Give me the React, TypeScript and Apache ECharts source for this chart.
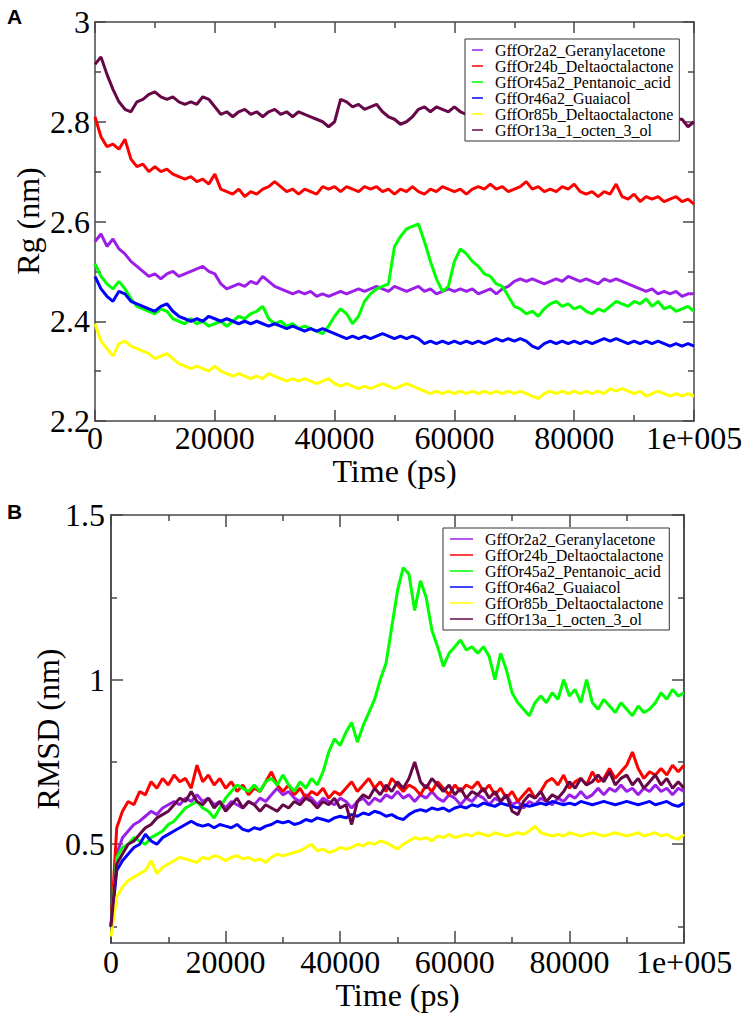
import React, { useEffect, useRef } from 'react';
import * as echarts from 'echarts';

// ---------- data ----------
const TIME_STEP_PS = 1000;
const TIME_PS: number[] = Array.from({ length: 101 }, (_, i) => i * TIME_STEP_PS);

const SERIES_NAMES = [
  'GffOr2a2_Geranylacetone',
  'GffOr24b_Deltaoctalactone',
  'GffOr45a2_Pentanoic_acid',
  'GffOr46a2_Guaiacol',
  'GffOr85b_Deltaoctalactone',
  'GffOr13a_1_octen_3_ol',
];
const SERIES_COLORS = ['#9b1fe8', '#ff0000', '#00ff00', '#0000ff', '#ffff00', '#670748'];

const X_TITLE = 'Time (ps)';
const RG_TITLE = 'Rg (nm)';
const RMSD_TITLE = 'RMSD (nm)';
const X_TICK_VALUES = [0, 20000, 40000, 60000, 80000, 100000];
const X_TICK_LABELS = ['0', '20000', '40000', '60000', '80000', '1e+005'];
const RG_TICK_VALUES = [2.2, 2.4, 2.6, 2.8, 3];
const RG_TICK_LABELS = ['2.2', '2.4', '2.6', '2.8', '3'];
const RMSD_MAJOR_TICKS = [0.5, 1, 1.5];
const RMSD_TICK_LABELS = ['0.5', '1', '1.5'];
const RMSD_MINOR_TICKS = [0.25, 0.75, 1.25];

// Panel A: Rg (nm)
const RG_2A2 = [2.56,2.575,2.55,2.565,2.545,2.535,2.52,2.51,2.5,2.49,
  2.495,2.485,2.495,2.5,2.49,2.495,2.5,2.505,2.51,2.5,
  2.495,2.475,2.465,2.47,2.475,2.47,2.48,2.475,2.49,2.48,
  2.47,2.465,2.46,2.455,2.46,2.455,2.46,2.45,2.455,2.45,
  2.455,2.46,2.455,2.46,2.465,2.46,2.465,2.47,2.465,2.46,
  2.47,2.465,2.46,2.465,2.47,2.46,2.465,2.455,2.46,2.465,
  2.46,2.465,2.46,2.465,2.455,2.46,2.465,2.455,2.465,2.47,
  2.48,2.485,2.48,2.485,2.48,2.475,2.48,2.485,2.48,2.49,
  2.485,2.48,2.485,2.48,2.475,2.485,2.48,2.485,2.48,2.475,
  2.47,2.465,2.46,2.465,2.455,2.46,2.455,2.46,2.45,2.455,
  2.455];
const RG_24B = [2.81,2.77,2.75,2.755,2.745,2.765,2.725,2.71,2.715,2.7,
  2.71,2.7,2.705,2.695,2.69,2.685,2.69,2.68,2.685,2.675,
  2.695,2.665,2.66,2.655,2.665,2.65,2.66,2.655,2.665,2.67,
  2.68,2.67,2.66,2.665,2.655,2.665,2.66,2.655,2.67,2.665,
  2.67,2.66,2.67,2.665,2.66,2.67,2.665,2.67,2.66,2.665,
  2.655,2.665,2.66,2.67,2.66,2.655,2.665,2.66,2.67,2.665,
  2.66,2.665,2.655,2.665,2.67,2.665,2.675,2.665,2.67,2.66,
  2.665,2.67,2.68,2.665,2.67,2.66,2.665,2.66,2.67,2.665,
  2.675,2.66,2.655,2.66,2.65,2.66,2.655,2.675,2.65,2.645,
  2.655,2.64,2.65,2.645,2.65,2.64,2.645,2.65,2.64,2.645,
  2.635];
const RG_45A2 = [2.515,2.49,2.475,2.465,2.48,2.465,2.445,2.43,2.425,2.42,
  2.415,2.425,2.42,2.405,2.4,2.395,2.405,2.395,2.4,2.39,
  2.395,2.4,2.39,2.4,2.41,2.405,2.415,2.42,2.43,2.405,
  2.395,2.4,2.39,2.395,2.385,2.39,2.385,2.38,2.375,2.39,
  2.41,2.425,2.415,2.395,2.41,2.44,2.455,2.465,2.47,2.475,
  2.55,2.57,2.585,2.59,2.595,2.56,2.52,2.485,2.46,2.47,
  2.52,2.545,2.535,2.52,2.51,2.495,2.49,2.475,2.47,2.45,
  2.43,2.425,2.415,2.42,2.41,2.425,2.435,2.44,2.43,2.435,
  2.425,2.43,2.42,2.415,2.425,2.42,2.43,2.44,2.435,2.43,
  2.44,2.435,2.445,2.43,2.44,2.425,2.43,2.42,2.425,2.43,
  2.42];
const RG_46A2 = [2.49,2.465,2.45,2.44,2.46,2.455,2.44,2.435,2.43,2.425,
  2.42,2.43,2.435,2.42,2.41,2.405,2.4,2.405,2.4,2.41,
  2.405,2.4,2.405,2.4,2.395,2.4,2.395,2.4,2.395,2.39,
  2.395,2.39,2.385,2.39,2.385,2.38,2.385,2.38,2.385,2.38,
  2.375,2.37,2.365,2.37,2.365,2.37,2.365,2.37,2.375,2.37,
  2.365,2.37,2.365,2.37,2.365,2.355,2.36,2.355,2.36,2.355,
  2.36,2.355,2.36,2.355,2.36,2.355,2.36,2.365,2.36,2.365,
  2.36,2.365,2.36,2.35,2.345,2.355,2.36,2.355,2.36,2.355,
  2.36,2.355,2.36,2.355,2.36,2.365,2.36,2.365,2.36,2.355,
  2.36,2.355,2.36,2.355,2.36,2.355,2.35,2.355,2.35,2.355,
  2.35];
const RG_85B = [2.395,2.36,2.345,2.33,2.355,2.36,2.35,2.345,2.34,2.335,
  2.325,2.33,2.335,2.325,2.315,2.31,2.305,2.31,2.305,2.3,
  2.31,2.3,2.295,2.29,2.295,2.29,2.285,2.29,2.285,2.295,
  2.29,2.285,2.28,2.285,2.28,2.285,2.28,2.275,2.28,2.285,
  2.275,2.27,2.275,2.27,2.265,2.27,2.265,2.27,2.275,2.27,
  2.265,2.27,2.275,2.27,2.265,2.26,2.255,2.26,2.255,2.26,
  2.255,2.26,2.255,2.26,2.255,2.26,2.255,2.26,2.255,2.26,
  2.255,2.26,2.255,2.25,2.245,2.255,2.26,2.255,2.26,2.255,
  2.26,2.255,2.26,2.255,2.26,2.255,2.265,2.26,2.265,2.26,
  2.255,2.26,2.25,2.255,2.26,2.255,2.25,2.255,2.25,2.255,
  2.25];
const RG_13A = [2.915,2.93,2.895,2.865,2.84,2.825,2.82,2.84,2.845,2.855,
  2.86,2.85,2.845,2.85,2.84,2.835,2.84,2.835,2.85,2.845,
  2.83,2.815,2.82,2.81,2.82,2.825,2.815,2.82,2.81,2.82,
  2.825,2.815,2.82,2.81,2.82,2.815,2.81,2.805,2.8,2.79,
  2.8,2.845,2.84,2.83,2.835,2.825,2.83,2.835,2.82,2.81,
  2.805,2.795,2.8,2.81,2.825,2.83,2.82,2.83,2.825,2.82,
  2.83,2.82,2.815,2.82,2.81,2.815,2.82,2.81,2.815,2.81,
  2.82,2.815,2.81,2.815,2.82,2.81,2.815,2.81,2.805,2.815,
  2.81,2.815,2.805,2.81,2.815,2.81,2.805,2.81,2.815,2.81,
  2.805,2.81,2.815,2.81,2.805,2.81,2.8,2.805,2.805,2.79,
  2.8];

// Panel B: RMSD (nm)
const RMSD_2A2 = [0.25,0.47,0.52,0.54,0.56,0.57,0.585,0.6,0.59,0.61,
  0.62,0.63,0.62,0.64,0.63,0.65,0.63,0.64,0.62,0.63,
  0.61,0.63,0.62,0.61,0.63,0.62,0.64,0.63,0.65,0.67,
  0.65,0.66,0.64,0.63,0.65,0.64,0.62,0.64,0.63,0.62,
  0.64,0.63,0.61,0.63,0.64,0.62,0.64,0.63,0.65,0.64,
  0.66,0.64,0.65,0.63,0.65,0.64,0.66,0.64,0.63,0.65,
  0.64,0.62,0.64,0.63,0.65,0.64,0.62,0.64,0.63,0.65,
  0.62,0.63,0.61,0.63,0.62,0.64,0.63,0.62,0.64,0.63,
  0.65,0.64,0.66,0.64,0.65,0.67,0.65,0.67,0.66,0.68,
  0.66,0.67,0.65,0.67,0.66,0.68,0.66,0.67,0.65,0.67,
  0.66];
const RMSD_24B = [0.25,0.55,0.6,0.63,0.62,0.66,0.65,0.69,0.67,0.7,
  0.68,0.71,0.69,0.7,0.67,0.74,0.69,0.71,0.68,0.7,
  0.67,0.69,0.66,0.68,0.65,0.67,0.66,0.69,0.72,0.68,
  0.66,0.68,0.65,0.67,0.64,0.66,0.65,0.67,0.64,0.66,
  0.65,0.67,0.69,0.66,0.68,0.7,0.67,0.69,0.66,0.7,
  0.68,0.66,0.68,0.67,0.65,0.68,0.66,0.69,0.67,0.65,
  0.68,0.66,0.68,0.67,0.69,0.66,0.68,0.65,0.67,0.64,
  0.66,0.63,0.65,0.67,0.64,0.66,0.69,0.7,0.68,0.71,
  0.67,0.69,0.7,0.68,0.72,0.69,0.7,0.73,0.7,0.72,
  0.74,0.78,0.73,0.7,0.72,0.71,0.73,0.71,0.74,0.72,
  0.74];
const RMSD_45A2 = [0.25,0.46,0.49,0.5,0.52,0.51,0.5,0.52,0.53,0.54,
  0.56,0.57,0.59,0.61,0.62,0.63,0.61,0.6,0.58,0.61,
  0.64,0.66,0.68,0.67,0.66,0.68,0.66,0.69,0.7,0.68,
  0.71,0.68,0.66,0.69,0.67,0.7,0.68,0.72,0.78,0.82,
  0.8,0.84,0.87,0.81,0.86,0.9,0.94,1.0,1.05,1.16,
  1.27,1.34,1.32,1.21,1.3,1.25,1.15,1.1,1.04,1.08,
  1.1,1.12,1.09,1.1,1.08,1.1,1.07,1.0,1.08,1.03,
  0.96,0.93,0.91,0.89,0.93,0.95,0.93,0.96,0.94,1.0,
  0.95,0.97,0.93,1.0,0.93,0.91,0.94,0.92,0.9,0.93,
  0.91,0.89,0.92,0.9,0.91,0.93,0.96,0.94,0.97,0.95,
  0.96];
const RMSD_46A2 = [0.25,0.42,0.45,0.47,0.49,0.5,0.53,0.51,0.5,0.52,
  0.53,0.54,0.55,0.56,0.57,0.56,0.555,0.56,0.55,0.56,
  0.555,0.55,0.56,0.545,0.54,0.55,0.545,0.555,0.56,0.57,
  0.565,0.57,0.56,0.565,0.575,0.57,0.58,0.575,0.57,0.58,
  0.585,0.58,0.59,0.585,0.595,0.59,0.6,0.595,0.585,0.59,
  0.58,0.575,0.59,0.6,0.605,0.6,0.61,0.605,0.61,0.6,
  0.61,0.615,0.61,0.62,0.615,0.625,0.62,0.615,0.625,0.62,
  0.615,0.61,0.62,0.615,0.62,0.625,0.62,0.63,0.625,0.62,
  0.625,0.62,0.63,0.625,0.62,0.625,0.63,0.625,0.62,0.625,
  0.63,0.625,0.62,0.625,0.63,0.62,0.625,0.63,0.62,0.615,
  0.625];
const RMSD_85B = [0.22,0.34,0.37,0.39,0.4,0.41,0.42,0.45,0.41,0.43,
  0.44,0.45,0.46,0.455,0.45,0.445,0.46,0.455,0.465,0.46,
  0.45,0.46,0.465,0.455,0.46,0.45,0.455,0.445,0.46,0.47,
  0.465,0.47,0.475,0.48,0.49,0.5,0.48,0.485,0.475,0.48,
  0.49,0.485,0.49,0.5,0.495,0.505,0.5,0.51,0.505,0.495,
  0.485,0.5,0.51,0.52,0.515,0.52,0.51,0.525,0.52,0.53,
  0.52,0.525,0.53,0.525,0.535,0.53,0.525,0.535,0.53,0.525,
  0.53,0.535,0.53,0.54,0.555,0.535,0.53,0.525,0.53,0.525,
  0.535,0.53,0.525,0.53,0.535,0.53,0.525,0.53,0.535,0.53,
  0.525,0.53,0.535,0.525,0.53,0.535,0.525,0.53,0.52,0.515,
  0.53];
const RMSD_13A = [0.25,0.44,0.47,0.5,0.51,0.53,0.55,0.56,0.58,0.59,
  0.6,0.62,0.64,0.63,0.66,0.63,0.62,0.64,0.61,0.63,
  0.6,0.62,0.64,0.61,0.63,0.62,0.6,0.62,0.61,0.6,
  0.62,0.61,0.63,0.62,0.64,0.63,0.61,0.63,0.62,0.64,
  0.61,0.62,0.56,0.63,0.65,0.64,0.67,0.65,0.68,0.66,
  0.69,0.67,0.7,0.75,0.69,0.67,0.7,0.68,0.66,0.68,
  0.65,0.67,0.64,0.66,0.65,0.67,0.64,0.66,0.63,0.65,
  0.6,0.59,0.63,0.65,0.64,0.66,0.63,0.65,0.64,0.66,
  0.69,0.67,0.7,0.68,0.69,0.71,0.69,0.72,0.68,0.7,
  0.71,0.68,0.7,0.67,0.69,0.71,0.68,0.7,0.67,0.69,
  0.67];

const RG_SERIES = [RG_2A2, RG_24B, RG_45A2, RG_46A2, RG_85B, RG_13A];
const RMSD_SERIES = [RMSD_2A2, RMSD_24B, RMSD_45A2, RMSD_46A2, RMSD_85B, RMSD_13A];

// ---------- styling ----------
const FONT = 'Liberation Serif, Times New Roman, serif';
const AXIS_COLOR = '#474747';
const LINE_W = 3;

const lookup = (values: number[], labels: string[]) => (v: number) => {
  const i = values.findIndex((x) => Math.abs(x - v) < 1e-6);
  return i >= 0 ? labels[i] : '';
};

const axisLine = { show: true, onZero: false, lineStyle: { color: AXIS_COLOR, width: 1.5 } };
const majorTick = (len: number) => ({ show: true, inside: true, length: len, lineStyle: { color: AXIS_COLOR, width: 1.5 } });
const minorTick = (len: number) => ({ show: true, splitNumber: 2, length: len, lineStyle: { color: AXIS_COLOR, width: 1.5 } });
const labelStyle = { fontFamily: FONT, fontSize: 32, color: '#000' };
const nameStyle = { fontFamily: FONT, fontSize: 32, color: '#000' };

function timeAxes(gridIndex: number, nameGap: number, labelMargin: number, tickLen: number) {
  const base = {
    gridIndex,
    type: 'value',
    min: 0,
    max: 100000,
    interval: 20000,
    axisLine,
    axisTick: majorTick(tickLen),
    minorTick: minorTick(6),
    splitLine: { show: false },
    minorSplitLine: { show: false },
  };
  return [
    {
      ...base,
      position: 'bottom',
      name: X_TITLE,
      nameLocation: 'middle',
      nameGap,
      nameTextStyle: nameStyle,
      axisLabel: { ...labelStyle, margin: labelMargin, formatter: lookup(X_TICK_VALUES, X_TICK_LABELS) },
    },
    { ...base, position: 'top', axisLabel: { show: false } },
  ];
}

function makeLegend(left: number, top: number, iconW: number) {
  return {
    show: true,
    orient: 'vertical',
    left,
    top,
    data: SERIES_NAMES,
    selectedMode: false,
    backgroundColor: '#fff',
    borderColor: '#333',
    borderWidth: 1,
    borderRadius: 0,
    padding: [3, 6, 3, 7],
    itemGap: 0,
    itemWidth: iconW,
    itemHeight: 1.5,
    icon: 'rect',
    formatter: (name: string) => `{t|${name}}`,
    textStyle: {
      fontFamily: FONT,
      fontSize: 16,
      color: '#000',
      rich: {
        t: { fontFamily: FONT, fontSize: 16, color: '#000', lineHeight: 19.4, padding: [0, 0, 0, 7] },
      },
    },
  };
}

function buildSeries(panel: number, arrays: number[][]) {
  return arrays.map((arr, k) => ({
    name: SERIES_NAMES[k],
    type: 'line',
    xAxisIndex: panel === 0 ? 0 : 2,
    yAxisIndex: panel === 0 ? 0 : 2,
    data: TIME_PS.map((t, i) => [t, arr[i]]),
    showSymbol: false,
    symbol: 'none',
    silent: true,
    lineStyle: { width: LINE_W, color: SERIES_COLORS[k], join: 'bevel' },
    itemStyle: { color: SERIES_COLORS[k] },
  }));
}

function yTitle(text: string, x: number, y: number) {
  return {
    type: 'text',
    x,
    y,
    rotation: Math.PI / 2,
    style: {
      text,
      font: '32px Liberation Serif, Times New Roman, serif',
      fill: '#000',
      textAlign: 'center',
      textVerticalAlign: 'middle',
    },
  };
}

function buildOption() {
  const rgBase = {
    gridIndex: 0,
    type: 'value',
    min: 2.2,
    max: 3.0,
    interval: 0.2,
    axisLine,
    axisTick: majorTick(11),
    minorTick: minorTick(6),
    splitLine: { show: false },
    minorSplitLine: { show: false },
  };
  const rmsdBase = {
    gridIndex: 1,
    type: 'value',
    min: 0.2,
    max: 1.5,
    axisLine,
    splitLine: { show: false },
  };
  return {
    animation: false,
    backgroundColor: '#fff',
    textStyle: { fontFamily: FONT },
    grid: [
      { left: 95, top: 22, width: 599, height: 399, containLabel: false },
      { left: 111, top: 515, width: 573, height: 428, containLabel: false },
    ],
    xAxis: [...timeAxes(0, 33, 1, 11), ...timeAxes(1, 31, 3, 12)],
    yAxis: [
      {
        ...rgBase,
        position: 'left',
        axisLabel: { ...labelStyle, margin: 5, formatter: lookup(RG_TICK_VALUES, RG_TICK_LABELS) },
      },
      { ...rgBase, position: 'right', axisLabel: { show: false } },
      {
        ...rmsdBase,
        position: 'left',
        axisTick: { ...majorTick(12), customValues: RMSD_MAJOR_TICKS },
        axisLabel: { ...labelStyle, margin: 6, customValues: RMSD_MAJOR_TICKS, formatter: lookup(RMSD_MAJOR_TICKS, RMSD_TICK_LABELS) },
      },
      {
        ...rmsdBase,
        position: 'left',
        axisTick: { ...majorTick(6), customValues: RMSD_MINOR_TICKS },
        axisLabel: { show: false },
      },
      {
        ...rmsdBase,
        position: 'right',
        axisTick: { ...majorTick(12), customValues: RMSD_MAJOR_TICKS },
        axisLabel: { show: false },
      },
      {
        ...rmsdBase,
        position: 'right',
        axisTick: { ...majorTick(6), customValues: RMSD_MINOR_TICKS },
        axisLabel: { show: false },
      },
    ],
    legend: [makeLegend(465, 39, 11), makeLegend(443, 528, 23)],
    graphic: [
      { type: 'text', left: 7, top: 6, style: { text: 'A', font: 'bold 21px Liberation Sans, Arial, sans-serif', fill: '#000' } },
      { type: 'text', left: 7, top: 501, style: { text: 'B', font: 'bold 21px Liberation Sans, Arial, sans-serif', fill: '#000' } },
      yTitle(RG_TITLE, 28, 221),
      yTitle(RMSD_TITLE, 48, 729),
    ],
    series: [...buildSeries(0, RG_SERIES), ...buildSeries(1, RMSD_SERIES)],
  };
}

export default function App() {
  const ref = useRef<HTMLDivElement>(null);
  useEffect(() => {
    if (!ref.current) return;
    const chart = echarts.init(ref.current, undefined, { renderer: 'svg' });
    chart.setOption(buildOption() as any);
    return () => chart.dispose();
  }, []);
  return (
    <div
      ref={ref}
      style={{ position: 'absolute', left: 0, top: 0, width: 750, height: 1013, background: '#fff' }}
    />
  );
}
